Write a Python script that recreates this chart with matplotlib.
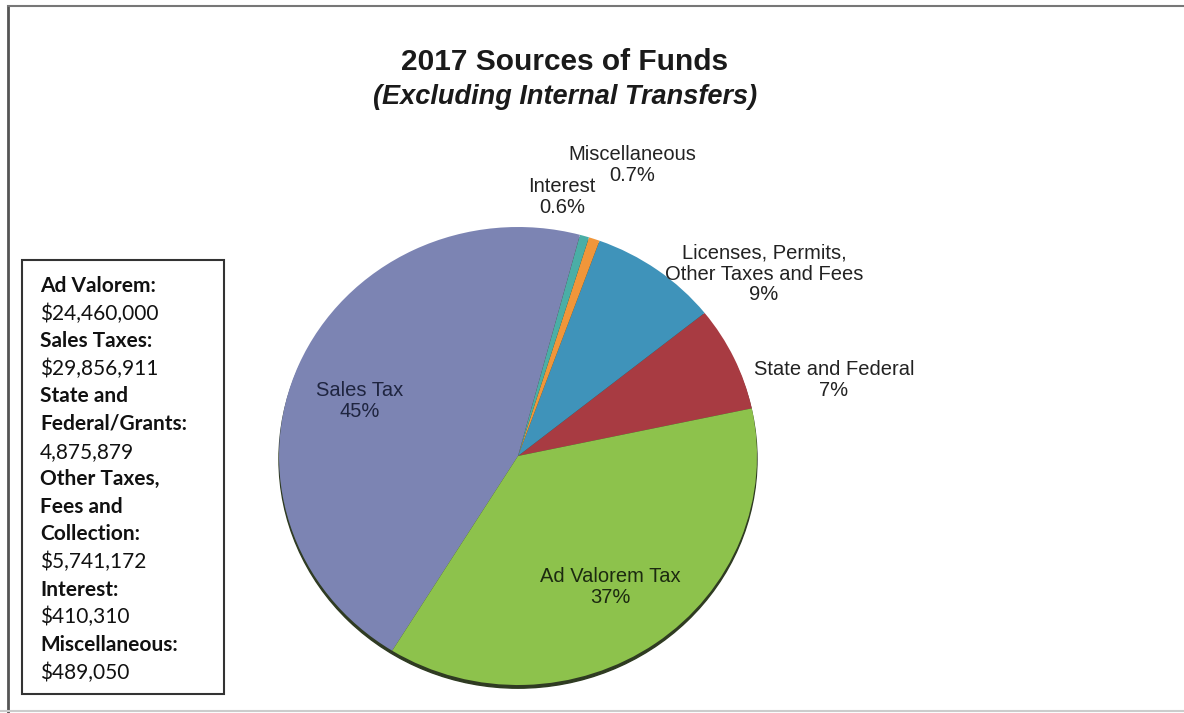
import matplotlib
matplotlib.use("Agg")
import matplotlib.pyplot as plt
from matplotlib.patches import Ellipse, Rectangle
from matplotlib.lines import Line2D

# ---- data ----
categories = ["State and Federal", "Licenses, Permits,\nOther Taxes and Fees",
              "Miscellaneous", "Interest", "Sales Tax", "Ad Valorem Tax"]
values = [4875879, 5741172, 489050, 410310, 29856911, 24460000]
pct_labels = ["7%", "9%", "0.7%", "0.6%", "45%", "37%"]
colors = ["#a83b42", "#3f93ba", "#f0963a", "#4aaea6", "#7c84b3", "#8dc24c"]

box_lines = [("Ad Valorem:", True), ("$24,460,000", False),
             ("Sales Taxes:", True), ("$29,856,911", False),
             ("State and", True), ("Federal/Grants:", True), ("4,875,879", False),
             ("Other Taxes,", True), ("Fees and", True), ("Collection:", True),
             ("$5,741,172", False), ("Interest:", True), ("$410,310", False),
             ("Miscellaneous:", True), ("$489,050", False)]

W, H = 1184, 713
fig = plt.figure(figsize=(W / 100, H / 100), dpi=100)
fig.patch.set_facecolor("white")

# outer frame
fig.add_artist(Line2D([8 / W, 8 / W], [0, 1 - 6 / H], transform=fig.transFigure,
                      color="#555555", lw=2))
fig.add_artist(Line2D([8 / W, 1], [1 - 6 / H, 1 - 6 / H], transform=fig.transFigure,
                      color="#777777", lw=1.5))
fig.add_artist(Line2D([0, 1], [2 / H, 2 / H], transform=fig.transFigure,
                      color="#cccccc", lw=1.5))

# pie axes
cx, cy, rx, ry = 518, 456, 239, 229
ax = fig.add_axes([(cx - rx) / W, (H - cy - ry) / H, 2 * rx / W, 2 * ry / H])
# subtle dark rim (3D edge)
rim = Ellipse((0.0, -0.014), 2.0, 2.0, color="#2f3b22", zorder=0, clip_on=False)
ax.add_patch(rim)
wedges, _ = ax.pie(values, colors=colors, startangle=12, counterclock=True,
                   radius=1.0, wedgeprops=dict(linewidth=0))
for w in wedges:
    w.set_zorder(1)
    w.set_clip_on(False)
ax.set_aspect("auto")
ax.set_xlim(-1, 1)
ax.set_ylim(-1, 1)
ax.axis("off")

lab_font = dict(family="Liberation Sans", fontsize=14.5, ha="center", va="center",
                linespacing=1.12)
# label positions in pixel coordinates
label_pos = [(834, 380), (764, 274), (632, 165), (562, 197), (360, 401), (610, 587)]
label_color = ["#222222", "#222222", "#222222", "#222222", "#1f2540", "#1c2a10"]
for cat, pct, (px, py), c in zip(categories, pct_labels, label_pos, label_color):
    fig.text(px / W, 1 - py / H, f"{cat}\n{pct}", color=c, **lab_font)

# title
fig.text(565 / W, 1 - 62 / H, "2017 Sources of Funds", family="Liberation Sans",
         fontsize=21.5, fontweight="bold", ha="center", va="center", color="#1a1a1a")
fig.text(565 / W, 1 - 97 / H, "(Excluding Internal Transfers)", family="Liberation Sans",
         fontsize=19.5, fontweight="bold", style="italic", ha="center", va="center",
         color="#1a1a1a")

# left info box
fig.add_artist(Rectangle((22 / W, 1 - 694 / H), (224 - 22) / W, (694 - 260) / H,
                         transform=fig.transFigure, fill=False, ec="#333333", lw=1.5))
y0, dy = 286, 27.6
for i, (txt, bold) in enumerate(box_lines):
    fig.text(40 / W, 1 - (y0 + i * dy) / H, txt, family="Lato", fontsize=15,
             fontweight="bold" if bold else "normal", ha="left", va="center",
             color="#111111")

fig.savefig("out.png", dpi=100, facecolor="white")
